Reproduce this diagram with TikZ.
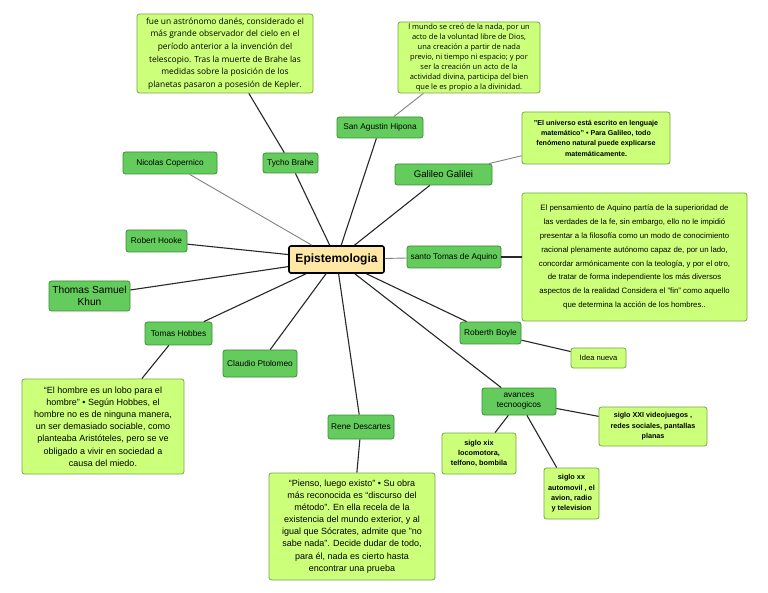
\documentclass[tikz,border=0pt]{standalone}
\usepackage{fontspec}
\setmainfont{Liberation Sans}
\newfontfamily\opensans{Open Sans}
\newcommand\fsz[2]{\fontsize{#1}{#2}\selectfont}

\definecolor{rootfill}{RGB}{255,232,165}
\definecolor{topicfill}{RGB}{100,204,92}
\definecolor{topicline}{RGB}{58,140,55}
\definecolor{notefill}{RGB}{204,255,122}
\definecolor{noteline}{RGB}{120,165,70}
\definecolor{linedark}{RGB}{40,40,40}
\definecolor{linegray}{RGB}{130,130,130}

\tikzset{
  wh/.style 2 args={minimum width=#1, minimum height=#2},
  root/.style={draw=black, fill=rootfill, line width=1.6, rounded corners=2,
    inner sep=0, font=\bfseries\fsz{12}{14}},
  topic/.style={draw=topicline, fill=topicfill, line width=0.8, rounded corners=2.5,
    inner sep=0, align=center, font=\fsz{8.3}{10}},
  note/.style={draw=noteline, fill=notefill, line width=0.8, rounded corners=2.5,
    inner sep=0, align=center},
  dark/.style={draw=linedark, line width=1.1},
  light/.style={draw=linegray, line width=0.9}
}

\begin{document}
\begin{tikzpicture}[x=1pt, y=-1pt]
\useasboundingbox[fill=white] (0,0) rectangle (768,593);

% centre
\node[root, wh={95}{27}] (episte) at (336.5,259.5) {Epistemologia};

% first ring
\node[topic, wh={55}{20}] (tycho) at (290.5,163) {Tycho Brahe};
\node[topic, wh={94}{22}] (copernico) at (170,163) {Nicolas Copernico};
\node[topic, wh={86}{21}] (agustin) at (380,127.5) {San Agustin Hipona};
\node[topic, wh={97}{21}, font=\fsz{9.6}{11}] (galileo) at (443.5,174.5) {Galileo Galilei};
\node[topic, wh={61}{22}] (hooke) at (156.5,241) {Robert Hooke};
\node[topic, wh={94}{22}] (aquino) at (454,257) {santo Tomas de Aquino};
\node[topic, wh={81}{30}, font=\fsz{10.2}{12}] (khun) at (89.5,296) {Thomas Samuel\\Khun};
\node[topic, wh={67}{23}] (hobbes) at (178.5,333.5) {Tomas Hobbes};
\node[topic, wh={74}{27}] (ptolomeo) at (260,363.5) {Claudio Ptolomeo};
\node[topic, wh={61}{22}] (boyle) at (490.5,333) {Roberth Boyle};
\node[topic, wh={74}{27}] (avances) at (519,401.5) {avances\\tecnoogicos};
\node[topic, wh={66}{24}] (descartes) at (361,427) {Rene Descartes};

% notes
\node[note, wh={176}{79}, font=\opensans\fsz{8.4}{12.6}] (tychonote) at (225,53.5)
  {fue un astrónomo danés, considerado el\\más grande observador del cielo en el\\período anterior a la invención del\\telescopio. Tras la muerte de Brahe las\\medidas sobre la posición de los\\planetas pasaron a posesión de Kepler.};
\node[note, wh={142}{71}, font=\opensans\fsz{7.5}{10.1}] (agustinnote) at (469,57.5)
  {l mundo se creó de la nada, por un\\acto de la voluntad libre de Dios,\\una creación a partir de nada\\previo, ni tiempo ni espacio; y por\\ser la creación un acto de la\\actividad divina, participa del bien\\que le es propio a la divinidad.};
\node[note, wh={148}{52}, font=\bfseries\fsz{7.1}{10.3}] (galileonote) at (596,138)
  {"El universo está escrito en lenguaje\\matemático" • Para Galileo, todo\\fenómeno natural puede explicarse\\matemáticamente.};
\node[note, wh={225}{128}, font=\fsz{7.8}{13.9}] (aquinonote) at (634.5,257)
  {El pensamiento de Aquino partía de la superioridad de\\las verdades de la fe, sin embargo, ello no le impidió\\presentar a la filosofía como un modo de conocimiento\\racional plenamente autónomo capaz de, por un lado,\\concordar armónicamente con la teología, y por el otro,\\de tratar de forma independiente los más diversos\\aspectos de la realidad Considera el "fin" como aquello\\que determina la acción de los hombres..};
\node[note, wh={162}{95}, font=\fsz{9}{12.2}] (hobbesnote) at (103,426.5)
  {“El hombre es un lobo para el\\hombre” • Según Hobbes, el\\hombre no es de ninguna manera,\\un ser demasiado sociable, como\\planteaba Aristóteles, pero se ve\\obligado a vivir en sociedad a\\causa del miedo.};
\node[note, wh={166}{107}, font=\fsz{9}{12.1}] (descartesnote) at (352,526.5)
  {“Pienso, luego existo” • Su obra\\más reconocida es “discurso del\\método”. En ella recela de la\\existencia del mundo exterior, y al\\igual que Sócrates, admite que "no\\sabe nada". Decide dudar de todo,\\para él, nada es cierto hasta\\encontrar una prueba};
\node[note, wh={55}{20}, font=\fsz{7.6}{9}] (idea) at (598.5,358) {Idea nueva};
\node[note, wh={108}{39}, font=\bfseries\fsz{7.2}{10.4}] (xxi) at (653,426.5)
  {siglo XXI videojuegos ,\\redes sociales, pantallas\\planas};
\node[note, wh={74}{41}, font=\bfseries\fsz{7.3}{10.3}] (xix) at (479,453.5)
  {siglo xix\\locomotora,\\telfono, bombila};
\node[note, wh={55}{51}, font=\bfseries\fsz{7.3}{10.3}] (xx) at (571.5,493.5)
  {siglo xx\\automovil , el\\avion, radio\\y television};

% connectors
\draw[dark] (episte) -- (tycho);
\draw[light] (episte) -- (copernico);
\draw[dark] (episte) -- (agustin);
\draw[dark] (episte) -- (galileo);
\draw[dark] (episte) -- (hooke);
\draw[light] (episte) -- (aquino);
\draw[dark] (episte) -- (khun);
\draw[dark] (episte) -- (hobbes);
\draw[dark] (episte) -- (ptolomeo);
\draw[dark] (episte) -- (boyle);
\draw[dark] (episte) -- (avances);
\draw[dark] (episte) -- (descartes);

\draw[dark] (tycho) -- (tychonote);
\draw[light] (agustin) -- (agustinnote);
\draw[light] (galileo) -- (galileonote);
\draw[dark] (aquino) -- (aquinonote);
\draw[dark] (hobbes) -- (hobbesnote);
\draw[dark] (descartes) -- (descartesnote);
\draw[dark] (boyle) -- (idea);
\draw[dark] (avances) -- (xxi);
\draw[dark] (avances) -- (xix);
\draw[dark] (avances) -- (xx);
\end{tikzpicture}
\end{document}
